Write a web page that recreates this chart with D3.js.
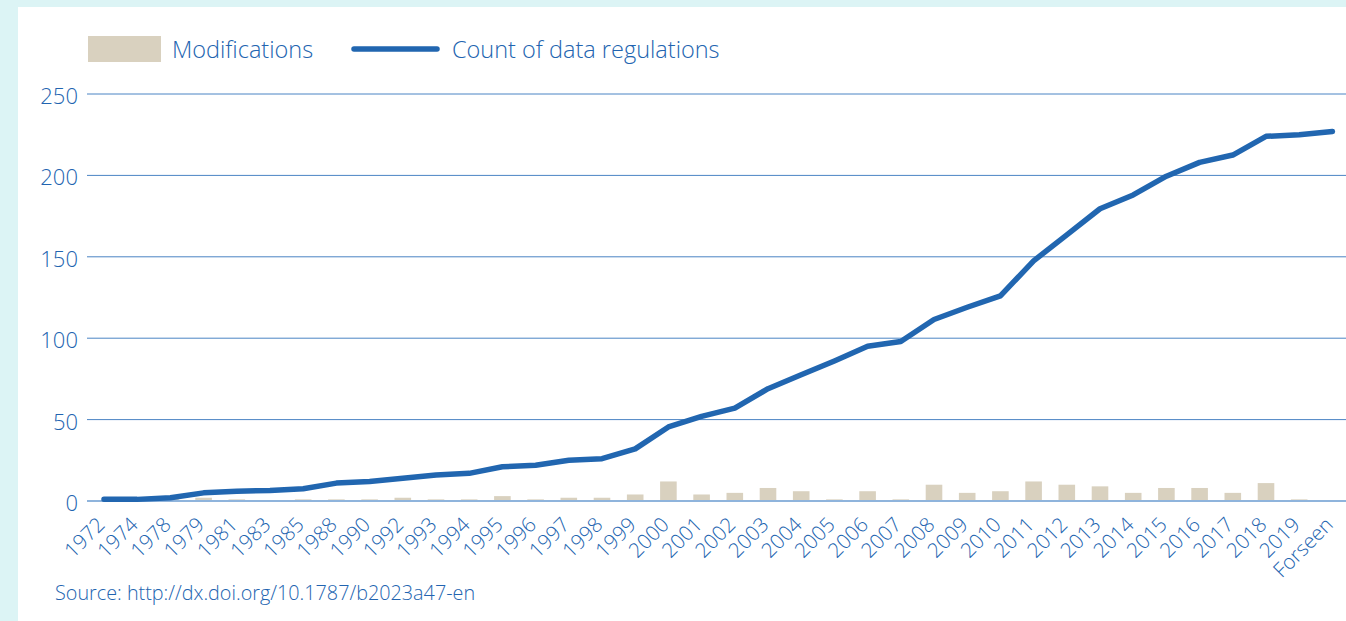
<!DOCTYPE html>
<html>
<head>
<meta charset="utf-8">
<script src="https://cdn.jsdelivr.net/npm/d3@7"></script>
<style>
  html, body { margin: 0; padding: 0; background: #dcf4f5; }
  svg { display: block; }
  text { font-family: "Open Sans", "Roboto", "Liberation Sans", sans-serif; font-weight: 300; fill: #2264b0; }
</style>
</head>
<body>
<svg id="chart" width="1346" height="621"></svg>
<script>
const categories = ["1972","1974","1978","1979","1981","1983","1985","1988","1990","1992","1993","1994","1995","1996","1997","1998","1999","2000","2001","2002","2003","2004","2005","2006","2007","2008","2009","2010","2011","2012","2013","2014","2015","2016","2017","2018","2019","Forseen"];
const modifications = [0,0,2,2,1,0,1,1,1,2,1,1,3,1,2,2,4,12,4,5,8,6,1,6,1,10,5,6,12,10,9,5,8,8,5,11,1,0];
const regulations = [1,1,2,5,6,6.5,7.5,11,12,14,16,17,21,22,25,26,32,45.5,52,57,69,77.5,86,95,98,111.5,119,126,147.5,163.5,179.5,188,199.5,208,212.5,224,225,227];
const yTicks = [0,50,100,150,200,250];
const seriesNames = ["Modifications","Count of data regulations"];
const sourceText = "Source: http://dx.doi.org/10.1787/b2023a47-en";

const svg = d3.select("#chart");
const W = 1346, H = 621;
const blue = "#2166b0", barCol = "#d9d1bf";

// white panel
svg.append("rect").attr("x", 18).attr("y", 7).attr("width", W - 18).attr("height", H - 7).attr("fill", "#ffffff");

const x = d3.scaleBand().domain(categories).range([87.4, 1349]).padding(0);
const y = d3.scaleLinear().domain([0, 250]).range([501, 94]);
const cx = c => x(c) + x.bandwidth() / 2;

// gridlines
svg.append("g").selectAll("line").data(yTicks.filter(d => d > 0)).join("line")
  .attr("x1", 87).attr("x2", W).attr("y1", d => y(d)).attr("y2", d => y(d))
  .attr("stroke", "#4a84c4").attr("stroke-width", 1);

// y labels
svg.append("g").selectAll("text").data(yTicks).join("text")
  .attr("x", 78).attr("y", d => y(d) + 10)
  .attr("text-anchor", "end").style("font-size", "22px").text(d => d);

// bars
const bw = x.bandwidth() * 0.5;
svg.append("g").selectAll("rect").data(categories.map((c, i) => ({c, v: modifications[i]}))).join("rect")
  .attr("x", d => cx(d.c) - bw / 2)
  .attr("y", d => y(d.v)).attr("width", bw).attr("height", d => y(0) - y(d.v))
  .attr("fill", barCol);

// baseline
svg.append("line").attr("x1", 87).attr("x2", W).attr("y1", y(0)).attr("y2", y(0))
  .attr("stroke", "#8fb4dc").attr("stroke-width", 2);

// line
const line = d3.line().x((d, i) => cx(categories[i])).y(d => y(d));
svg.append("path").datum(regulations).attr("d", line)
  .attr("fill", "none").attr("stroke", blue).attr("stroke-width", 5.5)
  .attr("stroke-linecap", "round").attr("stroke-linejoin", "round");

// x labels
svg.append("g").selectAll("text").data(categories).join("text")
  .attr("transform", d => `translate(${cx(d) + 2},${526}) rotate(-45)`)
  .attr("text-anchor", "end").style("font-size", "20.5px").text(d => d);

// legend
svg.append("rect").attr("x", 88).attr("y", 36).attr("width", 73).attr("height", 26).attr("fill", barCol);
svg.append("text").attr("x", 172).attr("y", 58).style("font-size", "23.5px").text(seriesNames[0]);
svg.append("line").attr("x1", 354).attr("x2", 437).attr("y1", 49).attr("y2", 49)
  .attr("stroke", blue).attr("stroke-width", 5.5).attr("stroke-linecap", "round");
svg.append("text").attr("x", 452).attr("y", 58).style("font-size", "23.5px").text(seriesNames[1]);

// source
svg.append("text").attr("x", 55).attr("y", 600).style("font-size", "19.8px").text(sourceText);
</script>
</body>
</html>
